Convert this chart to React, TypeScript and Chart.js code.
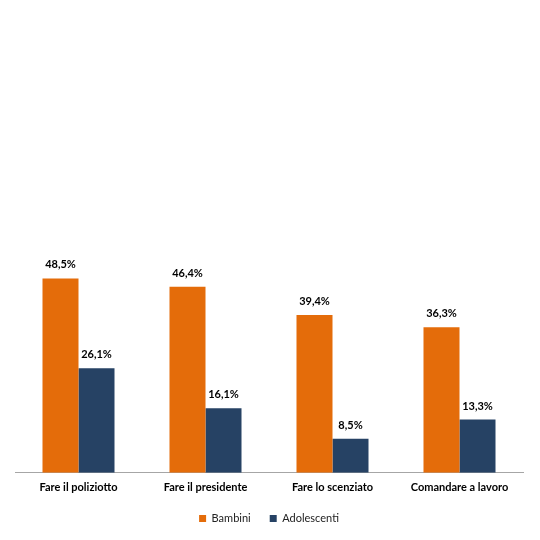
import React, { useEffect, useRef } from "react";
import { Chart, registerables } from "chart.js";

Chart.register(...registerables);

const categories = ["Fare il poliziotto", "Fare il presidente", "Fare lo scenziato", "Comandare a lavoro"];
const bambini = [48.5, 46.4, 39.4, 36.3];
const adolescenti = [26.1, 16.1, 8.5, 13.3];
const seriesNames = ["Bambini", "Adolescenti"];

const fmt = (v: number) => v.toFixed(1).replace(".", ",") + "%";

const labelPlugin = {
  id: "barLabels",
  afterDatasetsDraw(chart: any) {
    const ctx = chart.ctx;
    ctx.save();
    ctx.font = "bold 11px Lato, 'Open Sans', sans-serif";
    ctx.fillStyle = "#000";
    ctx.textAlign = "center";
    ctx.textBaseline = "bottom";
    chart.data.datasets.forEach((ds: any, i: number) => {
      const meta = chart.getDatasetMeta(i);
      meta.data.forEach((bar: any, j: number) => {
        ctx.fillText(fmt(ds.data[j]), bar.x, bar.y - 8);
      });
    });
    ctx.restore();
  },
};

export default function App() {
  const ref = useRef<HTMLCanvasElement>(null);
  useEffect(() => {
    if (!ref.current) return;
    const chart = new Chart(ref.current, {
      type: "bar",
      data: {
        labels: categories,
        datasets: [
          { label: seriesNames[0], data: bambini, backgroundColor: "#E46C0A" },
          { label: seriesNames[1], data: adolescenti, backgroundColor: "#264264" },
        ],
      },
      options: {
        animation: false,
        responsive: false,
        maintainAspectRatio: false,
        layout: { padding: { left: 15, right: 17, top: 72, bottom: 6 } },
        datasets: { bar: { categoryPercentage: 0.567, barPercentage: 1 } } as any,
        scales: {
          x: {
            grid: { display: false },
            border: { display: true, color: "#a6a6a6", width: 1 },
            ticks: {
              color: "#000",
              font: { family: "Lato, 'Open Sans', sans-serif", size: 11, weight: "bold" },
              padding: 0,
              maxRotation: 0,
            },
          },
          y: { display: false, min: 0, max: 100 },
        },
        plugins: {
          legend: {
            position: "bottom",
            labels: {
              boxWidth: 7,
              boxHeight: 7,
              padding: 19,
              color: "#222",
              font: { family: "Lato, 'Open Sans', sans-serif", size: 11 },
            },
          },
          tooltip: { enabled: false },
        },
      },
      plugins: [labelPlugin],
    });
    return () => chart.destroy();
  }, []);
  return (
    <div style={{ position: "fixed", left: 0, top: 0, width: 540, height: 540, background: "#fff" }}>
      <canvas ref={ref} width={540} height={540} style={{ width: 540, height: 540 }} />
    </div>
  );
}
